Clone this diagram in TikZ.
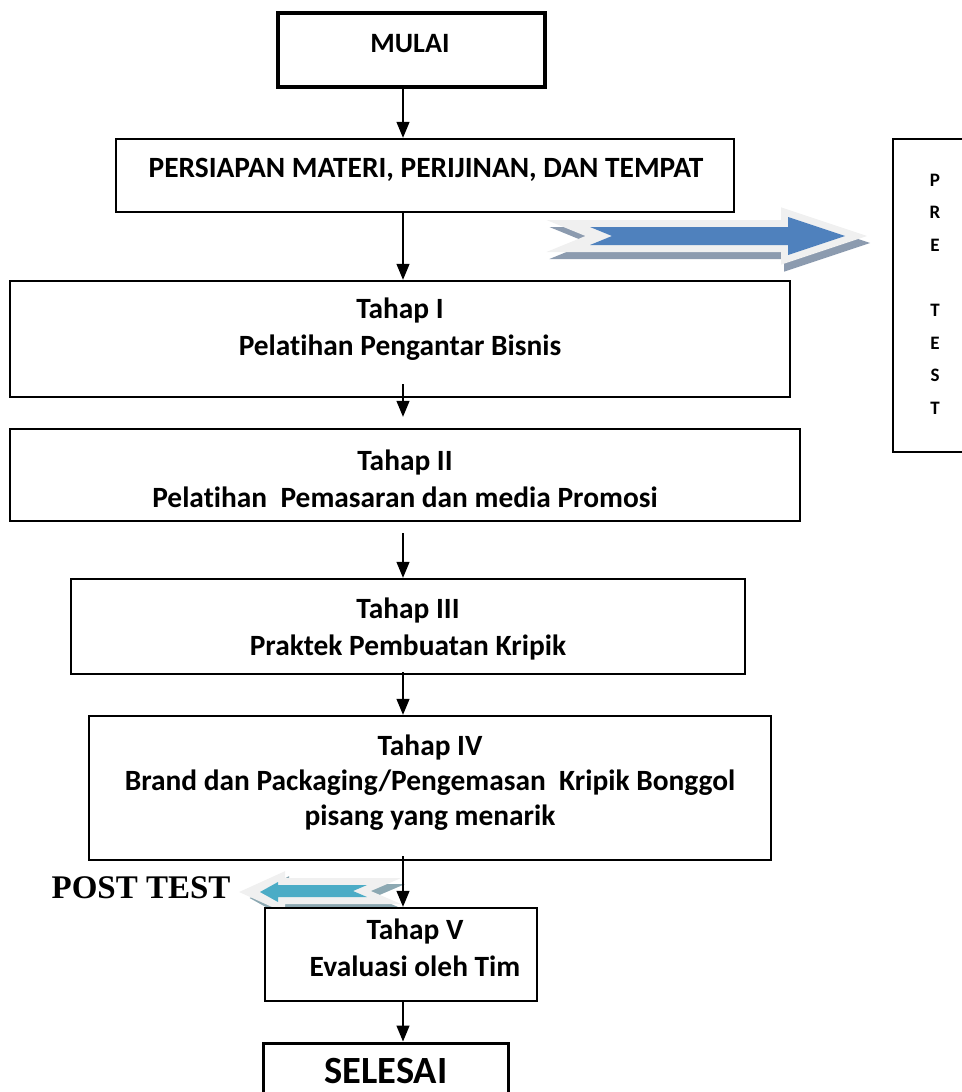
\documentclass[tikz,border=0pt]{standalone}
\usepackage{fontspec}
\setmainfont{Carlito}[Ligatures={NoCommon,NoContextual,NoRequired}]
\newfontfamily\tnr{Liberation Serif}
\usetikzlibrary{arrows.meta}
\definecolor{bluea}{RGB}{79,129,189}
\definecolor{blueb}{RGB}{75,172,198}
\definecolor{glow}{RGB}{240,240,240}
\definecolor{shad}{RGB}{140,155,175}
\definecolor{shadb}{RGB}{140,168,178}
\tikzset{
  box/.style={draw, line width=2.4pt, inner sep=0pt, fill=white},
  txt/.style={font=\bfseries\fontsize{29.4}{37}\selectfont, align=center, inner sep=0pt},
  arr/.style={-{Triangle[width=13pt,length=16pt]}, line width=1.3pt},
  glowline/.style={line width=14pt, line join=miter, miter limit=12},
}
\begin{document}
\begin{tikzpicture}[x=1pt,y=-1pt]
\useasboundingbox (0,0) rectangle (961,1092);
\coordinate (spine) at (403,0);

% right block arrow
\draw[glowline, draw=shad, fill=shad, shift={(3,7)}] (582,227) -- (788,227) -- (788,217) -- (845,236) -- (788,255) -- (788,245) -- (582,245) -- (604,236) -- cycle;
\draw[glowline, draw=glow, fill=glow] (582,227) -- (788,227) -- (788,217) -- (845,236) -- (788,255) -- (788,245) -- (582,245) -- (604,236) -- cycle;
\fill[bluea] (590,227) -- (788,227) -- (788,217) -- (845,236) -- (788,255) -- (788,245) -- (590,245) -- (612,236) -- cycle;

% left block arrow
\draw[glowline, draw=shadb, fill=shadb, shift={(4,6)}] (367,885) -- (278,885) -- (278,882) -- (260,892) -- (278,902) -- (278,897) -- (367,897) -- (353,891) -- cycle;
\draw[glowline, draw=glow, fill=glow] (367,885) -- (278,885) -- (278,882) -- (256,892) -- (278,902) -- (278,897) -- (367,897) -- (353,891) -- cycle;
\fill[blueb] (367,885) -- (278,885) -- (278,882) -- (260,892) -- (278,902) -- (278,897) -- (367,897) -- (353,891) -- cycle;

% boxes
\node[box, line width=4pt, minimum width=267pt, minimum height=74pt] (mulai) at (411.5,50) {};
\node[box, minimum width=618pt, minimum height=73pt] (prep) at (425,175.5) {};
\node[box, minimum width=780pt, minimum height=116pt] (t1) at (400,339) {};
\node[box, minimum width=790pt, minimum height=92pt] (t2) at (405,475) {};
\node[box, minimum width=674pt, minimum height=95pt] (t3) at (408,626.5) {};
\node[box, minimum width=682pt, minimum height=144pt] (t4) at (430,788) {};
\node[box, minimum width=272pt, minimum height=93pt] (t5) at (401,954.5) {};
\node[box, line width=3pt, minimum width=245pt, minimum height=72pt] (sel) at (385.5,1079) {};
\node[box, minimum width=92pt, minimum height=313pt] (pre) at (939,295.5) {};

% texts
\node[txt, font=\bfseries\fontsize{28}{37}\selectfont] (mulaiT) at (410,44) {MULAI};
\node[txt] (prepT) at (426,170) {PERSIAPAN MATERI, PERIJINAN, DAN TEMPAT};
\node[txt] (t1T) at (400,329) {Tahap I\\Pelatihan Pengantar Bisnis};
\node[txt] (t2T) at (405,479) {Tahap II\\Pelatihan~ Pemasaran dan media Promosi};
\node[txt] (t3T) at (408,629) {Tahap III\\Praktek Pembuatan Kripik};
\node[txt, font=\bfseries\fontsize{29.4}{35}\selectfont] (t4T) at (430,783) {Tahap IV\\Brand dan Packaging/Pengemasan~ Kripik Bonggol\\pisang yang menarik};
\node[txt] (t5T) at (415,948) {Tahap V\\Evaluasi oleh Tim};
\node[txt, font=\bfseries\fontsize{38.5}{40}\selectfont] (selT) at (386,1071) {SELESAI};
\node[txt, font=\bfseries\fontsize{19}{32.6}\selectfont] (preT) at (935,294) {P\\R\\E\\\mbox{}\\T\\E\\S\\T};
\node[inner sep=0pt, font=\tnr\bfseries\fontsize{33}{37}\selectfont] (post) at (141,888) {POST TEST};

% connectors
\draw[arr] (mulai.south -| spine) -- (prep.north -| spine);
\draw[arr] (prep.south -| spine) -- (t1.north -| spine);
\draw[arr, shorten <=-14pt, shorten >=11pt] (t1.south -| spine) -- (t2.north -| spine);
\draw[arr, shorten <=11pt] (t2.south -| spine) -- (t3.north -| spine);
\draw[arr, shorten <=-3pt] (t3.south -| spine) -- (t4.north -| spine);
\draw[arr, shorten <=-5pt] (t4.south -| spine) -- (t5.north -| spine);
\draw[arr] (t5.south -| spine) -- (sel.north -| spine);
\end{tikzpicture}
\end{document}
